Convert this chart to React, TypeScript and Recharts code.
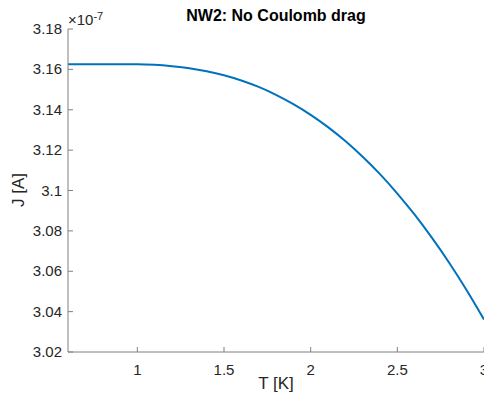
import { LineChart, Line, XAxis, YAxis } from 'recharts';

// temperature grid [K]
const T_VALUES = [
  0.6, 0.7, 0.8, 0.9, 1.0, 1.1, 1.2, 1.3, 1.4, 1.5, 1.6, 1.7, 1.8,
  1.9, 2.0, 2.1, 2.2, 2.3, 2.4, 2.5, 2.6, 2.7, 2.8, 2.9, 3.0,
];
// current, units of 1e-7 A
const J_VALUES = [
  3.1625, 3.1626, 3.1626, 3.1626, 3.1626, 3.1623, 3.1616, 3.1606, 3.1591,
  3.1571, 3.1545, 3.1513, 3.1474, 3.1428, 3.1375, 3.1314, 3.1245, 3.1167,
  3.1081, 3.0985, 3.088, 3.0765, 3.0641, 3.0506, 3.0361,
];
const X_TICKS = [1, 1.5, 2, 2.5, 3];
const Y_TICKS = [3.02, 3.04, 3.06, 3.08, 3.1, 3.12, 3.14, 3.16, 3.18];

const AXIS = '#808080';
const TEXT = '#262626';
const FONT = '"Liberation Sans", Arial, sans-serif';

const data = T_VALUES.map((t, i) => ({ t, j: J_VALUES[i] }));
const fmt = (v: number) => String(parseFloat(v.toFixed(2)));

const BottomTick = ({ x, y, payload }: any) => (
  <g>
    <line x1={x} x2={x} y1={y} y2={y - 5} stroke={AXIS} />
    <text x={x} y={y + 23} textAnchor="middle" fill={TEXT} fontSize={15} fontFamily={FONT}>
      {fmt(payload.value)}
    </text>
  </g>
);

const TopTick = ({ x, y }: any) => <line x1={x} x2={x} y1={y} y2={y + 5} stroke={AXIS} />;

const LeftTick = ({ x, y, payload }: any) => (
  <g>
    <line x1={x} x2={x + 5} y1={y} y2={y} stroke={AXIS} />
    <text x={x - 6} y={y + 5} textAnchor="end" fill={TEXT} fontSize={15} fontFamily={FONT}>
      {fmt(payload.value)}
    </text>
  </g>
);

const RightTick = ({ x, y }: any) => <line x1={x} x2={x - 5} y1={y} y2={y} stroke={AXIS} />;

export default function App() {
  return (
    <div
      style={{
        position: 'absolute',
        left: 0,
        top: 0,
        width: 484,
        height: 401,
        background: '#fff',
        fontFamily: FONT,
        color: TEXT,
        overflow: 'hidden',
      }}
    >
      <LineChart width={484} height={401} data={data} margin={{ top: 29, right: 0, bottom: 0, left: 0 }}>
        <XAxis
          xAxisId="b"
          dataKey="t"
          type="number"
          domain={[0.6, 3]}
          ticks={X_TICKS}
          interval={0}
          height={49}
          tickSize={0}
          tickMargin={0}
          axisLine={{ stroke: AXIS }}
          tickLine={false}
          tick={<BottomTick />}
          allowDataOverflow
        />
        <XAxis
          xAxisId="t"
          orientation="top"
          dataKey="t"
          type="number"
          domain={[0.6, 3]}
          ticks={X_TICKS}
          interval={0}
          height={0}
          tickSize={0}
          tickMargin={0}
          axisLine={{ stroke: AXIS }}
          tickLine={false}
          tick={<TopTick />}
          allowDataOverflow
        />
        <YAxis
          yAxisId="l"
          type="number"
          domain={[3.02, 3.18]}
          ticks={Y_TICKS}
          interval={0}
          width={68}
          tickSize={0}
          tickMargin={0}
          axisLine={{ stroke: AXIS }}
          tickLine={false}
          tick={<LeftTick />}
          allowDataOverflow
        />
        <YAxis
          yAxisId="r"
          orientation="right"
          type="number"
          domain={[3.02, 3.18]}
          ticks={Y_TICKS}
          interval={0}
          width={0}
          tickSize={0}
          tickMargin={0}
          axisLine={{ stroke: AXIS }}
          tickLine={false}
          tick={<RightTick />}
          allowDataOverflow
        />
        <Line
          xAxisId="b"
          yAxisId="l"
          type="monotone"
          dataKey="j"
          stroke="#0072BD"
          strokeWidth={2}
          dot={false}
          isAnimationActive={false}
        />
      </LineChart>

      <div
        style={{
          position: 'absolute',
          left: 68,
          width: 416,
          top: 7,
          textAlign: 'center',
          fontWeight: 'bold',
          fontSize: 16,
          lineHeight: '18px',
          color: '#000',
        }}
      >
        NW2: No Coulomb drag
      </div>
      <div style={{ position: 'absolute', left: 68, top: 11, fontSize: 15, lineHeight: '17px' }}>
        ×10<sup style={{ fontSize: 11, verticalAlign: 'top', position: 'relative', top: -3 }}>-7</sup>
      </div>
      <div
        style={{
          position: 'absolute',
          left: 68,
          width: 416,
          top: 374,
          textAlign: 'center',
          fontSize: 17,
          lineHeight: '20px',
        }}
      >
        T [K]
      </div>
      <div
        style={{
          position: 'absolute',
          left: 19,
          top: 190,
          fontSize: 17,
          lineHeight: '20px',
          whiteSpace: 'nowrap',
          transform: 'translate(-50%, -50%) rotate(-90deg)',
        }}
      >
        J [A]
      </div>
    </div>
  );
}
